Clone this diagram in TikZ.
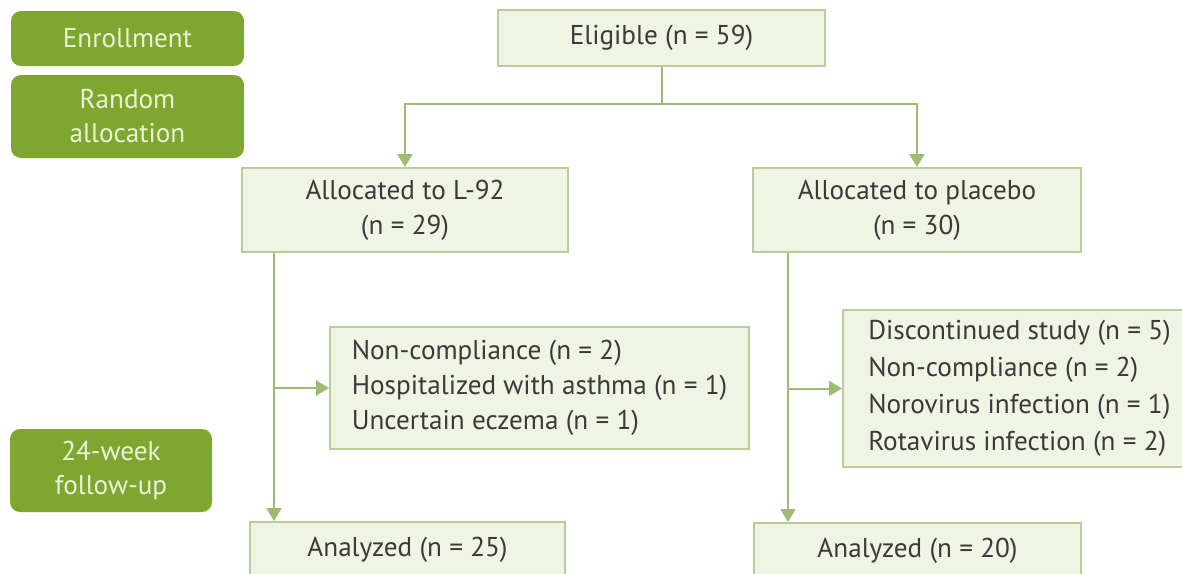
\documentclass[tikz,border=0pt]{standalone}
\usepackage{fontspec}
\setmainfont{PT Sans}
\usetikzlibrary{arrows.meta}
\definecolor{stagegreen}{HTML}{7FA62F}
\definecolor{stagetext}{HTML}{EAF2D6}
\definecolor{boxfill}{HTML}{EFF4E5}
\definecolor{boxline}{HTML}{B9CD98}
\definecolor{linkgreen}{HTML}{9DBC72}
\definecolor{boxtext}{HTML}{3A3A3A}
\begin{document}
\begin{tikzpicture}[x=0.5pt,y=-0.5pt]
    \tikzset{
        stage/.style={fill=stagegreen, text=stagetext, rounded corners=5pt, align=center,
            inner sep=0pt, font=\fontsize{13.6}{17}\selectfont},
        flowbox/.style={draw=boxline, fill=boxfill, text=boxtext, line width=1pt, inner sep=0pt,
            font=\fontsize{13.6}{17.5}\selectfont},
        link/.style={draw=linkgreen, line width=1pt},
        arrowlink/.style={link, -{Triangle[length=6.5pt,width=7.5pt]}},
    }
    \useasboundingbox (0,0) rectangle (1182,573);
    \clip (0,0) rectangle (1182,573);
    \fill[white] (0,0) rectangle (1182,573);
    % stages on the left
    \node[stage, minimum width=116.5pt, minimum height=27.5pt] (enroll) at (127.5,38.5) {Enrollment};
    \node[stage, minimum width=116.5pt, minimum height=41.5pt] (random) at (127.5,116.5) {Random\\allocation};
    \node[stage, minimum width=101pt, minimum height=41.5pt] (follow) at (111,470.5) {24-week\\follow-up};
    % flow boxes
    \node[flowbox, minimum width=163.5pt, minimum height=28pt] (elig) at (661.5,38) {Eligible (n = 59)};
    \node[flowbox, align=center, minimum width=163pt, minimum height=42pt] (lnn) at (405,210) {Allocated to L-92\\(n = 29)};
    \node[flowbox, align=center, minimum width=164pt, minimum height=42pt] (plac) at (917,210) {Allocated to placebo\\(n = 30)};
    \node[flowbox, align=left, minimum width=209.5pt, minimum height=61pt] (exlnn) at (539.5,388)
        {Non-compliance (n = 2)\\Hospitalized with asthma (n = 1)\\Uncertain eczema (n = 1)};
    \node[flowbox, align=left, minimum width=176.5pt, minimum height=78.5pt,
        font=\fontsize{13.6}{18.5}\selectfont] (explac) at (1019.5,388.5)
        {Discontinued study (n = 5)\\Non-compliance (n = 2)\\Norovirus infection (n = 1)\\Rotavirus infection (n = 2)};
    \node[flowbox, minimum width=157.5pt, minimum height=28pt] (analnn) at (407.5,550) {Analyzed (n = 25)};
    \node[flowbox, minimum width=163.5pt, minimum height=28pt] (anaplac) at (917.5,551) {Analyzed (n = 20)};
    % connectors
    \coordinate (split) at (661.5,104);
    \coordinate (trunkl) at (274,0);
    \coordinate (trunkp) at (788,0);
    \draw[link] (elig.south) -- (split);
    \draw[arrowlink] (split) -| (lnn.north);
    \draw[arrowlink] (split) -| (plac.north);
    \draw[arrowlink] (trunkl |- lnn.south) -- (trunkl |- analnn.north);
    \draw[arrowlink] (trunkl |- exlnn.west) -- (exlnn.west);
    \draw[arrowlink] (trunkp |- plac.south) -- (trunkp |- anaplac.north);
    \draw[arrowlink] (trunkp |- explac.west) -- (explac.west);
\end{tikzpicture}
\end{document}
